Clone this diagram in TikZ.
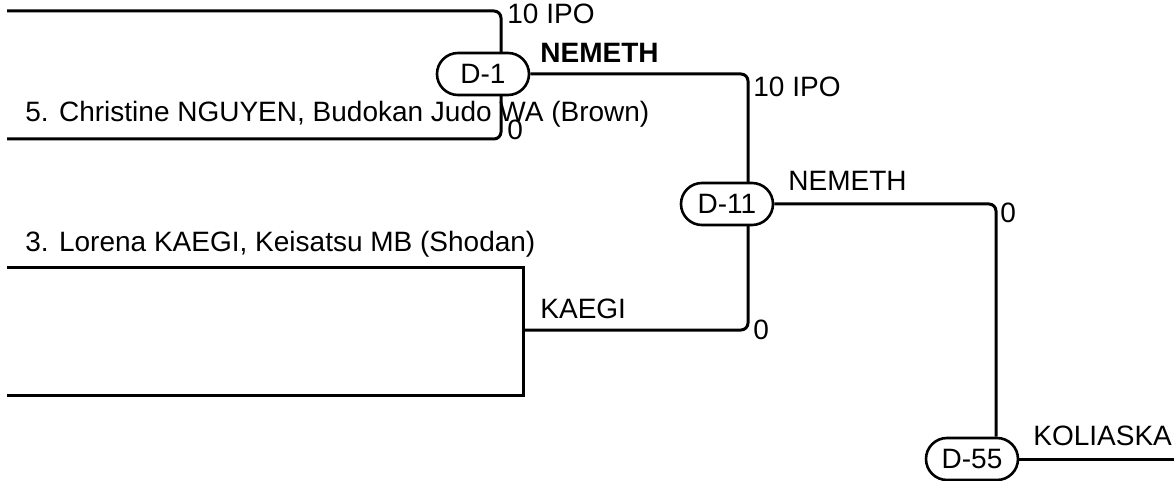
\documentclass[tikz,border=0pt]{standalone}
\usepackage{fontspec}
\setmainfont{Liberation Sans}
\usetikzlibrary{backgrounds}

\begin{document}
\begin{tikzpicture}[
  x=0.5pt, y=-0.5pt,
  match/.style={
    draw,
    fill=white,
    line width=1.3pt,
    rounded corners=10.5pt,
    minimum width=46pt,
    minimum height=21pt,
    inner sep=0pt,
    font=\fontsize{14}{16}\selectfont
  },
  wire/.style={
    line width=1.5pt,
    rounded corners=3.5pt
  },
  lbl/.style={
    anchor=base west,
    inner sep=0pt,
    font=\fontsize{14}{16}\selectfont
  }
]
\useasboundingbox (0,0) rectangle (1174,481);

% Contest boxes
\node[match] (d1) at (483,74) {D-1};
\node[match] (d11) at (727,204) {D-11};
\node[match] (d55) at (972,459) {D-55};

% Competitors
\node[lbl] (nguyen) at (25,122) {5. Christine NGUYEN, Budokan Judo WA (Brown)};
\node[lbl] (kaegi) at (25,251) {3. Lorena KAEGI, Keisatsu MB (Shodan)};

% Winners and scores
\node[lbl] (score1a) at (507,24) {10 IPO};
\node[lbl] (score1b) at (507,140) {0};
\node[lbl] (win1) at (540,63) {\bfseries NEMETH};
\node[lbl] (score11a) at (753,97) {10 IPO};
\node[lbl] (win2) at (540,318) {KAEGI};
\node[lbl] (score11b) at (753,339) {0};
\node[lbl] (win11) at (788,191) {NEMETH};
\node[lbl] (score55) at (1000,222) {0};
\node[lbl] (win55) at (1033,445) {KOLIASKA};

% Line ends
\coordinate (e1) at (7,11);
\coordinate (e2) at (7,139);
\coordinate (e3) at (7,267);
\coordinate (e4) at (7,395);
\coordinate (k) at (523,330);
\coordinate (fin) at (1174,459);

\begin{pgfonlayer}{background}
\draw[wire] (e1) -| ([xshift=9pt]d1.center) |- (e2);
\draw[wire] (d1.east) -| ([xshift=10.5pt]d11.center) |- (k);
\draw[line width=1.5pt] (e3) -| (k);
\draw[line width=1.5pt] (e4) -| (k);
\draw[wire] (d11.east) -| ([xshift=12pt]d55.north);
\draw[wire] (d55.east) -- (fin);
\end{pgfonlayer}

\end{tikzpicture}
\end{document}
